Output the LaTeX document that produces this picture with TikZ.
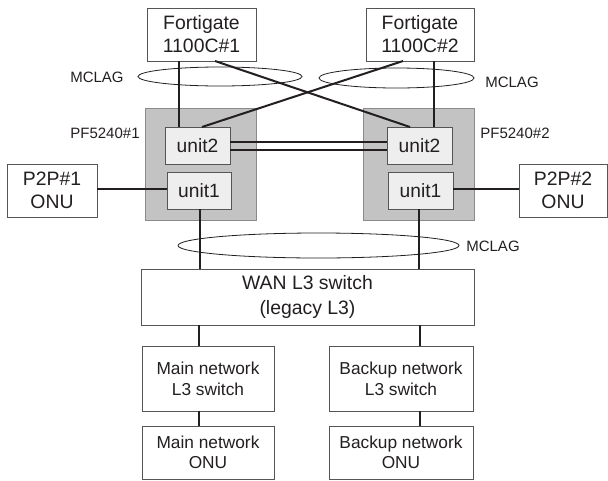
\documentclass[tikz,border=0pt]{standalone}
\usepackage{fontspec}
\setmainfont{Liberation Sans}
\usetikzlibrary{shapes.geometric}
\definecolor{txt}{HTML}{231F20}
\definecolor{boxline}{HTML}{555555}
\definecolor{pfgray}{HTML}{C3C3C3}
\definecolor{pfline}{HTML}{8A8A8A}
\definecolor{unitfill}{HTML}{EEEEEE}
\begin{document}
\begin{tikzpicture}[x=1pt,y=-1pt,
  every node/.style={text=txt, inner sep=0pt, outer sep=0pt},
  box/.style={draw=boxline, line width=0.9pt, fill=white, align=center, font=\fontsize{19.4}{23}\selectfont},
  smallbox/.style={box, font=\fontsize{17.3}{21}\selectfont},
  pfbox/.style={draw=pfline, line width=0.9pt, fill=pfgray},
  unitbox/.style={draw=boxline, line width=0.9pt, fill=unitfill, font=\fontsize{19.2}{23}\selectfont},
  lbl/.style={font=\fontsize{15}{18}\selectfont},
  lag/.style={ellipse, draw=txt, line width=0.8pt},
  thick link/.style={draw=txt, line width=2pt},
  thin link/.style={draw=txt, line width=1.3pt}]
\useasboundingbox (0,0) rectangle (608,480);

% devices
\node[box, minimum width=109, minimum height=53] (F1) at (201.5,34.5) {Fortigate\\1100C\#1};
\node[box, minimum width=108, minimum height=53] (F2) at (420,34.5) {Fortigate\\1100C\#2};

\node[pfbox, minimum width=111, minimum height=112] (PF1) at (200.5,164) {};
\node[pfbox, minimum width=111, minimum height=112] (PF2) at (418.5,164) {};
\node[unitbox, minimum width=65, minimum height=37] (U2L) at (197.5,145.5) {unit2};
\node[unitbox, minimum width=64, minimum height=37] (U1L) at (199,190.5) {unit1};
\node[unitbox, minimum width=65, minimum height=37] (U2R) at (419.5,145.5) {unit2};
\node[unitbox, minimum width=65, minimum height=37] (U1R) at (420.5,190.5) {unit1};

\node[box, minimum width=90, minimum height=53] (P1) at (52,190.5) {P2P\#1\\ONU};
\node[box, minimum width=88, minimum height=53] (P2) at (563,190.5) {P2P\#2\\ONU};

\node[box, minimum width=333, minimum height=56, font=\fontsize{19.4}{25}\selectfont] (WAN) at (307.5,297) {WAN L3 switch\\(legacy L3)};
\node[smallbox, minimum width=132, minimum height=65] (ML3) at (208,378.5) {Main network\\L3 switch};
\node[smallbox, minimum width=144, minimum height=65] (BL3) at (401,378.5) {Backup network\\L3 switch};
\node[smallbox, minimum width=132, minimum height=53, font=\fontsize{17.3}{20}\selectfont] (MON) at (208,452.5) {Main network\\ONU};
\node[smallbox, minimum width=144, minimum height=53, font=\fontsize{17.3}{20}\selectfont] (BON) at (401,452.5) {Backup network\\ONU};

% labels
\node[lbl] (pf1l) at (105,133) {PF5240\#1};
\node[lbl] (pf2l) at (515,133) {PF5240\#2};
\node[lbl] (lagl1) at (97,77) {MCLAG};
\node[lbl] (lagl2) at (512,82) {MCLAG};
\node[lbl] (lagl3) at (493,246) {MCLAG};

% connectors
\draw[thick link] ([xshift=-22.5]F1.south) -- ([xshift=-18.5]U2L.north);
\draw[thick link] ([xshift=13.5]F1.south) -- ([xshift=-9.5]U2R.north);
\draw[thick link] ([xshift=-17]F2.south) -- ([xshift=4.5]U2L.north);
\draw[thick link] ([xshift=14]F2.south) -- ([xshift=14.5]U2R.north);
\draw[thick link] ([yshift=-4.5]U2L.east) -- ([yshift=-4.5]U2R.west);
\draw[thick link] ([yshift=3.5]U2L.east) -- ([yshift=3.5]U2R.west);
\draw[thick link] ([yshift=1.5]P1.east) -- ([yshift=1.5]U1L.west);
\draw[thick link] ([yshift=1.5]U1R.east) -- ([yshift=1.5]P2.west);

\draw[thin link] ([xshift=1]U1L.south) -- ([xshift=1]U1L.south |- WAN.north);
\draw[thin link] ([xshift=-1.5]U1R.south) -- ([xshift=-1.5]U1R.south |- WAN.north);
\draw[thin link] ([xshift=-9]ML3.north) -- ([xshift=-9]ML3.north |- WAN.south);
\draw[thin link] ([xshift=19]BL3.north) -- ([xshift=19]BL3.north |- WAN.south);
\draw[thin link] ([xshift=-9]ML3.south) -- ([xshift=-9]MON.north);
\draw[thin link] ([xshift=19]BL3.south) -- ([xshift=19]BON.north);

% MCLAG ellipses
\node[lag, minimum width=164, minimum height=19] (lag1) at (220,76.5) {};
\node[lag, minimum width=155, minimum height=20] (lag2) at (396.5,78) {};
\node[lag, minimum width=281, minimum height=25] (lag3) at (318.5,245.5) {};
\end{tikzpicture}
\end{document}
